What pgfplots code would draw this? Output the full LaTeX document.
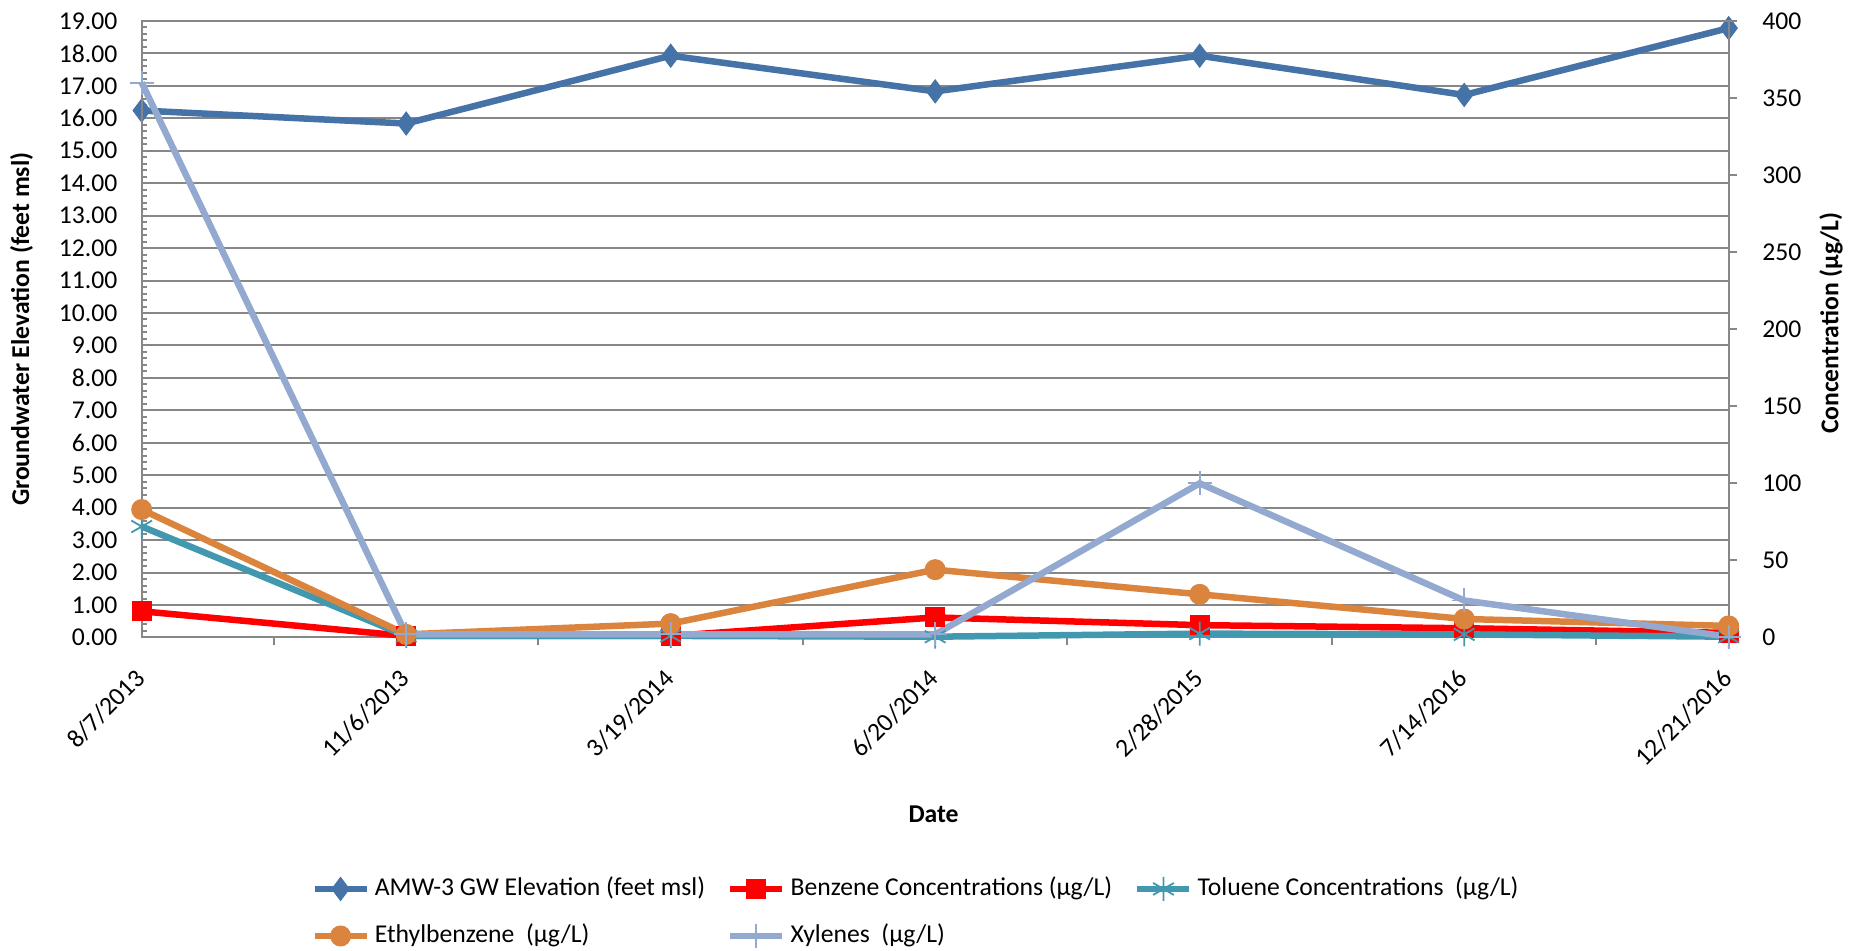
\documentclass[border=0pt]{standalone}
\usepackage{fontspec}
\setmainfont{Carlito}
\usepackage{pgfplots}
\pgfplotsset{compat=1.18}
\definecolor{elev}{HTML}{4572A7}
\definecolor{benz}{HTML}{FF0000}
\definecolor{tolu}{HTML}{4198AF}
\definecolor{ethyl}{HTML}{DB843D}
\definecolor{xyl}{HTML}{93A9CF}
\definecolor{gridgray}{HTML}{878787}

\pgfplotsset{
  common/.style={
    at={(1.417cm,3.135cm)}, anchor=south west,
    scale only axis, width=15.87cm, height=6.165cm,
    xmin=0, xmax=6, clip=false,
    font=\fontsize{7.3}{8.8}\selectfont,
    /pgf/number format/assume math mode=true,
    axis line style={gridgray, line width=0.02cm},
    every tick/.style={gridgray, line width=0.02cm},
  },
}

\begin{document}
\begin{tikzpicture}
\useasboundingbox (0,0) rectangle (18.67cm,9.51cm);

% left axis: groundwater elevation
\begin{axis}[common,
  ymin=0, ymax=19, ytick distance=1, minor y tick num=4,
  ymajorgrids, major grid style={gridgray, line width=0.02cm},
  tick align=inside, major tick length=0pt, minor tick length=0.05cm,
  ytick pos=left, xtick pos=left,
  xtick={0,...,6},
  xticklabels={8/7/2013,11/6/2013,3/19/2014,6/20/2014,2/28/2015,7/14/2016,12/21/2016},
  xticklabel style={xshift=-0.08cm, yshift=-0.29cm, rotate=45, anchor=north east, inner sep=0pt},
  yticklabel style={/pgf/number format/fixed, /pgf/number format/fixed zerofill, /pgf/number format/precision=2},
  yticklabel style={anchor=east, inner sep=0pt, xshift=-0.237cm},
  xlabel={\textbf{Date}},
  xlabel style={at={(axis description cs:0.499,-0.286)}, anchor=center},
  ylabel={\textbf{Groundwater Elevation (feet msl)}},
  ylabel style={at={(axis description cs:-0.0757,0.5)}, anchor=center},
]
\addplot[elev, line width=0.065cm, mark=diamond*, mark size=0.115cm,
  mark options={solid, fill=elev, line width=0.01cm}]
  coordinates {(0,16.24) (1,15.84) (2,17.93) (3,16.83) (4,17.93) (5,16.72) (6,18.78)};
\end{axis}

% right axis: concentrations
\begin{axis}[common,
  ymin=0, ymax=400, ytick distance=50,
  ytick pos=right, yticklabel pos=right, xtick pos=left,
  tick align=outside, major tick length=0.08cm,
  xtick={0.5,1.5,...,5.5}, xticklabels={},
  yticklabel style={anchor=west, inner sep=0pt, xshift=0.25cm},
  ylabel={\textbf{Concentration (µg/L)}},
  ylabel style={at={(axis description cs:1.0645,0.51)}, anchor=center, rotate=0},
  legend columns=3,
  legend cell align=left,
  legend style={at={(axis description cs:0.0998,-0.371)}, anchor=north west,
    draw=none, fill=none, font=\fontsize{7.3}{8.8}\selectfont,
    nodes={inner sep=0.03cm}, column sep=0.02cm, row sep=0.17cm,
    /tikz/every even column/.append style={column sep=0.19cm}},
  legend image code/.code={\draw[mark repeat=2, mark phase=2]
    plot coordinates {(0cm,0cm) (0.26cm,0cm) (0.52cm,0cm)};},
]
\addlegendimage{elev, line width=0.065cm, mark=diamond*, mark size=0.115cm,
  mark options={solid, fill=elev, line width=0.01cm}}
\addlegendentry{AMW-3 GW Elevation (feet msl)}

\addplot[benz, line width=0.065cm, mark=square*, mark size=0.095cm,
  mark options={solid, fill=benz, line width=0.01cm}]
  coordinates {(0,17) (1,1) (2,1) (3,13) (4,8) (5,6) (6,3)};
\addlegendentry{Benzene Concentrations (µg/L)}

\addplot[tolu, line width=0.065cm, mark=asterisk, mark size=0.12cm,
  mark options={solid, line width=0.018cm}]
  coordinates {(0,72) (1,1) (2,1) (3,0.5) (4,2.5) (5,2) (6,0.5)};
\addlegendentry{Toluene Concentrations\ \ (µg/L)}

\addplot[ethyl, line width=0.065cm, mark=*, mark size=0.1cm,
  mark options={solid, fill=ethyl, line width=0.01cm}]
  coordinates {(0,83) (1,2) (2,9) (3,44) (4,28) (5,12) (6,7.5)};
\addlegendentry{Ethylbenzene\ \ (µg/L)}

\addplot[xyl, line width=0.065cm, mark=+, mark size=0.12cm,
  mark options={solid, line width=0.018cm}]
  coordinates {(0,360) (1,2) (2,2) (3,2) (4,100) (5,24) (6,0.5)};
\addlegendentry{Xylenes\ \ (µg/L)}
\end{axis}
\end{tikzpicture}
\end{document}
